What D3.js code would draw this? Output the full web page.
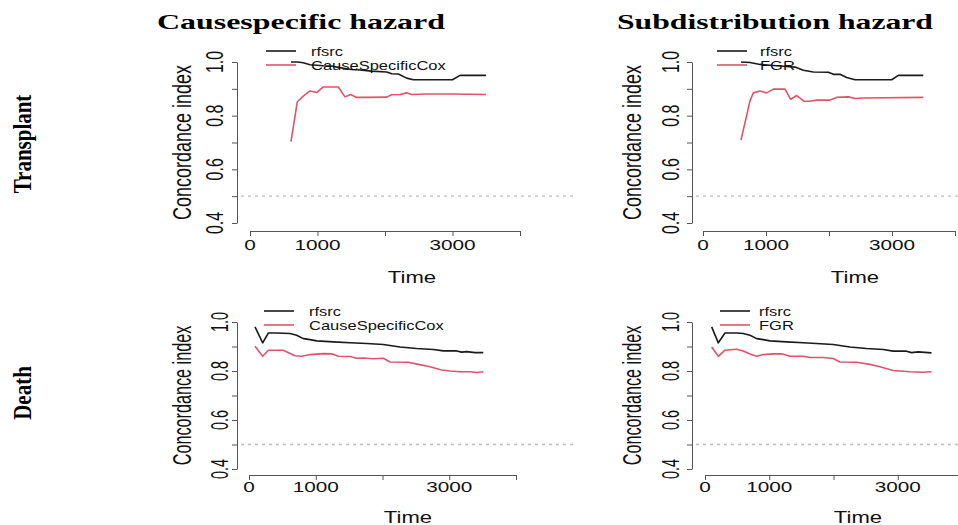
<!DOCTYPE html>
<html>
<head>
<meta charset="utf-8">
<script src="https://cdn.jsdelivr.net/npm/d3@7"></script>
<style>
  body { margin: 0; background: #fff; }
  svg { display: block; }
</style>
</head>
<body>
<svg id="chart" width="958" height="525"></svg>
<script>
// column / row titles
var colTitles = ["Causespecific hazard", "Subdistribution hazard"]
var rowTitles = ["Transplant", "Death"]
var yLabel = "Concordance index"
var xLabel = "Time"

// ticks
var xTicks = [0, 1000, 2000, 3000, 4000]
var xTickLabels = [0, 1000, 3000]
var yTicks = [0.4, 0.5, 0.6, 0.7, 0.8, 0.9, 1.0]
var yTickLabels = [0.4, 0.6, 0.8, 1.0]
var refLine = 0.5

// Transplant, cause specific
var tlTimeRf = [607, 700, 790, 889, 988, 1086, 1200, 1309, 1407, 1500, 1630, 1800, 2025, 2100, 2198, 2321, 2420, 3000, 3111, 3496]
var tlRfsrc  = [1.0, 1.0, 0.997, 0.99, 0.988, 0.986, 0.985, 0.98, 0.976, 0.972, 0.97, 0.966, 0.963, 0.956, 0.955, 0.94, 0.934, 0.934, 0.95, 0.95]
var tlTimeCox = [607, 701, 790, 889, 988, 1086, 1309, 1407, 1491, 1580, 1728, 2025, 2099, 2222, 2321, 2395, 2617, 3012, 3496]
var tlCox     = [0.703, 0.852, 0.873, 0.892, 0.886, 0.907, 0.907, 0.870, 0.879, 0.868, 0.868, 0.869, 0.878, 0.879, 0.885, 0.879, 0.881, 0.881, 0.879]

// Transplant, subdistribution
var trTimeRf = [603, 746, 905, 1063, 1275, 1460, 1593, 1751, 1990, 2069, 2175, 2280, 2413, 2995, 3101, 3497]
var trRfsrc  = [1.0, 0.998, 0.991, 0.988, 0.984, 0.981, 0.969, 0.963, 0.962, 0.954, 0.954, 0.942, 0.934, 0.934, 0.95, 0.95]
var trTimeFgr = [603, 746, 799, 905, 1011, 1116, 1302, 1392, 1487, 1603, 1698, 1804, 2016, 2122, 2307, 2413, 2545, 3497]
var trFgr     = [0.709, 0.855, 0.885, 0.892, 0.885, 0.899, 0.899, 0.861, 0.875, 0.854, 0.854, 0.858, 0.858, 0.868, 0.870, 0.864, 0.866, 0.868]

// Death, cause specific
var blTimeRf = [90, 205, 290, 415, 614, 714, 814, 914, 1014, 1264, 1513, 1763, 2013, 2262, 2512, 2761, 2911, 3111, 3186, 3261, 3386, 3510]
var blRfsrc  = [0.98, 0.915, 0.955, 0.955, 0.953, 0.946, 0.932, 0.928, 0.923, 0.919, 0.915, 0.912, 0.908, 0.898, 0.892, 0.888, 0.882, 0.882, 0.877, 0.879, 0.875, 0.875]
var blTimeCox = [90, 205, 290, 514, 689, 789, 914, 1114, 1239, 1339, 1513, 1613, 1713, 1863, 2013, 2113, 2387, 2537, 2712, 2886, 3011, 3161, 3311, 3411, 3510]
var blCox     = [0.901, 0.86, 0.885, 0.885, 0.862, 0.86, 0.867, 0.871, 0.87, 0.86, 0.859, 0.852, 0.853, 0.85, 0.852, 0.837, 0.836, 0.827, 0.817, 0.804, 0.8, 0.797, 0.797, 0.794, 0.797]

// Death, subdistribution
var brTimeRf = [104, 207, 311, 493, 596, 700, 804, 907, 1011, 1270, 1529, 1996, 2255, 2514, 2774, 2929, 3136, 3214, 3317, 3525]
var brRfsrc  = [0.98, 0.915, 0.955, 0.955, 0.953, 0.946, 0.932, 0.928, 0.923, 0.919, 0.915, 0.908, 0.898, 0.892, 0.888, 0.881, 0.881, 0.875, 0.878, 0.874]
var brTimeFgr = [104, 207, 311, 493, 596, 700, 804, 907, 1063, 1193, 1322, 1529, 1633, 1840, 1996, 2100, 2359, 2566, 2722, 2929, 3188, 3395, 3525]
var brFgr     = [0.898, 0.86, 0.885, 0.889, 0.882, 0.869, 0.86, 0.867, 0.87, 0.87, 0.86, 0.86, 0.855, 0.855, 0.851, 0.837, 0.836, 0.827, 0.817, 0.802, 0.797, 0.795, 0.797]

var BLACK = '#1a1a1a'
var RED = '#DF536B'
var SANS = 'Arial, "Liberation Sans", Helvetica, sans-serif'
var SERIF = '"Times New Roman", "Liberation Serif", serif'
var SX = 1.34   // the picture is stretched sideways
var SXR = 1.45  // same, for the rotated texts

// panel boxes (pixel layout)
var panels = [
  {ax: 237, y1: 62, y0: 223, x0: 250, x4: 520, axY: 231, tlx: 215, ylx: 182, xlb: 250, tb: 283, tx: 412, right: 576, sy: 1,
   lg: {x: 266, y: 51, tx: 311}, other: 'CauseSpecificCox',
   s: [[tlTimeRf, tlRfsrc, BLACK], [tlTimeCox, tlCox, RED]]},
  {ax: 692, y1: 62, y0: 223, x0: 703, x4: 955, axY: 231, tlx: 671, ylx: 632, xlb: 250, tb: 283, tx: 855, right: 960, sy: 1,
   lg: {x: 717, y: 51, tx: 760}, other: 'FGR',
   s: [[trTimeRf, trRfsrc, BLACK], [trTimeFgr, trFgr, RED]]},
  {ax: 237, y1: 322, y0: 469, x0: 249, x4: 516, axY: 475, tlx: 220, ylx: 182, xlb: 492, tb: 523, tx: 408, right: 576, sy: 0.9,
   lg: {x: 264, y: 311, tx: 309}, other: 'CauseSpecificCox',
   s: [[blTimeRf, blRfsrc, BLACK], [blTimeCox, blCox, RED]]},
  {ax: 692, y1: 322, y0: 469, x0: 705, x4: 962, axY: 475, tlx: 671, ylx: 632, xlb: 492, tb: 523, tx: 858, right: 960, sy: 0.9,
   lg: {x: 720, y: 311, tx: 759}, other: 'FGR',
   s: [[brTimeRf, brRfsrc, BLACK], [brTimeFgr, brFgr, RED]]}
]

var svg = d3.select('#chart')

// column titles
var titleBox = [[301, 288], [775, 316]]
svg.selectAll('.ctitle')
  .data(colTitles)
  .enter().append('text')
    .attr('class', 'ctitle')
    .attr('x', function(d, i){ return titleBox[i][0] })
    .attr('y', 29)
    .attr('text-anchor', 'middle')
    .attr('textLength', function(d, i){ return titleBox[i][1] })
    .attr('lengthAdjust', 'spacingAndGlyphs')
    .style('font-family', SERIF)
    .style('font-weight', 'bold')
    .style('font-size', '21px')
    .text(function(d){ return d })

// row titles
var rowY = [144, 393]
svg.selectAll('.rtitle')
  .data(rowTitles)
  .enter().append('text')
    .attr('class', 'rtitle')
    .attr('transform', function(d, i){ return 'translate(24,' + rowY[i] + ') scale(1.15,1) rotate(-90)' })
    .attr('text-anchor', 'middle')
    .attr('dy', '0.3em')
    .style('font-family', SERIF)
    .style('font-weight', 'bold')
    .style('font-size', '21px')
    .text(function(d){ return d })

panels.forEach(function(p){
  var x = d3.scaleLinear().domain([0, 4000]).range([p.x0, p.x4])
  var y = d3.scaleLinear().domain([0.4, 1.0]).range([p.y0, p.y1])
  var g = svg.append('g')

  // reference line at 0.5
  g.append('line')
    .attr('x1', p.ax + 4).attr('x2', p.right)
    .attr('y1', y(refLine)).attr('y2', y(refLine))
    .attr('stroke', '#bdbdbd')
    .attr('stroke-width', 1.3)
    .attr('stroke-dasharray', '3,4')

  // axes
  var xa = g.append('g')
    .attr('transform', 'translate(0,' + p.axY + ')')
    .call(d3.axisBottom(x).tickValues(xTicks).tickSize(5).tickSizeOuter(0).tickFormat(''))
  var ya = g.append('g')
    .attr('transform', 'translate(' + p.ax + ',0)')
    .call(d3.axisLeft(y).tickValues(yTicks).tickSize(5).tickSizeOuter(0).tickFormat(''))
  ;[xa, ya].forEach(function(a){
    a.selectAll('path, line').attr('stroke', '#555').attr('stroke-width', 1)
  })

  // tick labels
  g.selectAll('.xtl')
    .data(xTickLabels)
    .enter().append('text')
      .attr('transform', function(d){ return 'translate(' + x(d) + ',' + p.xlb + ') scale(' + SX + ',1)' })
      .attr('text-anchor', 'middle')
      .style('font-family', SANS)
      .style('font-size', '15.5px')
      .style('fill', '#111')
      .text(function(d){ return d })
  g.selectAll('.ytl')
    .data(yTickLabels)
    .enter().append('text')
      .attr('transform', function(d){ return 'translate(' + p.tlx + ',' + y(d) + ') scale(' + SXR + ',' + p.sy + ') rotate(-90)' })
      .attr('text-anchor', 'middle')
      .attr('dy', '0.36em')
      .style('font-family', SANS)
      .style('font-size', '16px')
      .style('fill', '#111')
      .text(function(d){ return d3.format('.1f')(d) })

  // axis titles
  g.append('text')
    .attr('transform', 'translate(' + p.tx + ',' + p.tb + ') scale(1.3,1)')
    .attr('text-anchor', 'middle')
    .style('font-family', SANS)
    .style('font-size', '17px')
    .style('fill', '#111')
    .text(xLabel)
  g.append('text')
    .attr('transform', 'translate(' + p.ylx + ',' + ((p.y0 + p.y1) / 2) + ') scale(' + SXR + ',' + p.sy + ') rotate(-90)')
    .attr('text-anchor', 'middle')
    .attr('dy', '0.36em')
    .style('font-family', SANS)
    .style('font-size', '18px')
    .style('fill', '#111')
    .text(yLabel)

  // series
  var line = d3.line()
    .x(function(d){ return x(d[0]) })
    .y(function(d){ return y(d[1]) })
  p.s.forEach(function(s){
    var pts = d3.zip(s[0], s[1])
    g.append('path')
      .datum(pts)
      .attr('d', line)
      .attr('fill', 'none')
      .attr('stroke', s[2])
      .attr('stroke-width', 1.6)
      .attr('stroke-linejoin', 'round')
  })

  // legend
  var items = [['rfsrc', BLACK], [p.other, RED]]
  items.forEach(function(it, i){
    var ly = p.lg.y + i * 14
    g.append('line')
      .attr('x1', p.lg.x).attr('x2', p.lg.x + 30)
      .attr('y1', ly).attr('y2', ly)
      .attr('stroke', it[1])
      .attr('stroke-width', 1.6)
    g.append('text')
      .attr('transform', 'translate(' + p.lg.tx + ',' + (ly + 4.5) + ') scale(1.32,1)')
      .style('font-family', SANS)
      .style('font-size', '12.5px')
      .style('fill', '#111')
      .text(it[0])
  })
})
</script>
</body>
</html>
